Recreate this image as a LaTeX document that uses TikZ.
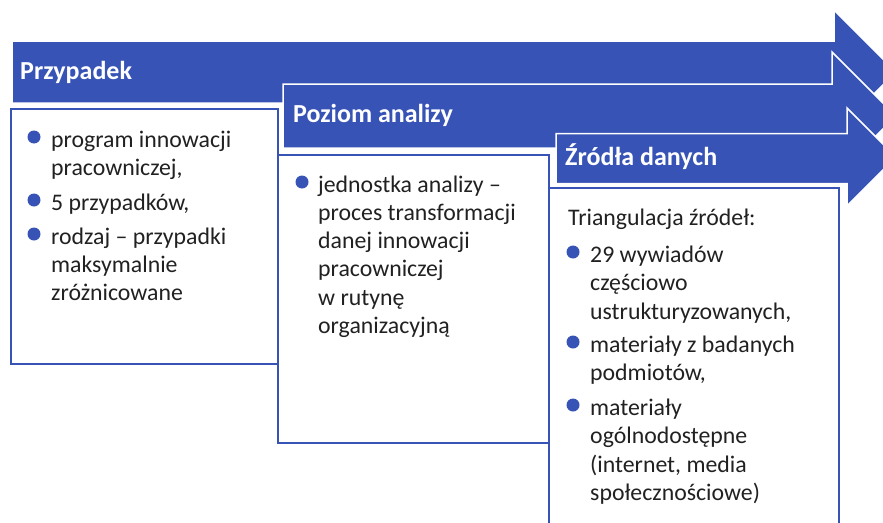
\documentclass[tikz,border=0pt]{standalone}
\usepackage{fontspec}
\setmainfont{Carlito}
\definecolor{flow}{RGB}{54,83,181}
\definecolor{ink}{RGB}{33,33,33}
\newcommand{\bodyfont}{\fontsize{23.8}{28}\selectfont}
\newcommand{\headfont}{\fontsize{26}{30}\selectfont\bfseries}
\tikzset{
  banner/.style={fill=flow, draw=white, line width=1.5pt, line join=miter},
  panel/.style={fill=white, draw=flow, line width=2.5pt},
  headtxt/.style={anchor=base west, inner sep=0pt, font=\headfont, text=white},
  ln/.style={anchor=base west, inner sep=0pt, font=\bodyfont, text=ink},
  dot/.style={circle, fill=flow, inner sep=0pt, outer sep=0pt, minimum size=13pt}
}
\begin{document}
\begin{tikzpicture}[x=1pt,y=-1pt]
\clip (0,0) rectangle (883,522);
\fill[white] (0,0) rectangle (883,522);

% first stage
\draw[banner] (12,41) -- (834,41) -- (834,10) -- (896,72) -- (834,134) -- (834,103) -- (12,103) -- cycle;
\draw[panel] (11,109) rectangle (278,364);
\node[headtxt] (h1) at (20,79) {Przypadek};
\node[dot] (b1a) at (34,137) {};
\node[ln] (t1a) at (51,147) {program innowacji};
\node[ln] (t1b) at (51,175) {pracowniczej,};
\node[dot] (b1b) at (34,200) {};
\node[ln] (t1c) at (51,210) {5 przypadków,};
\node[dot] (b1c) at (34,234) {};
\node[ln] (t1d) at (51,244) {rodzaj – przypadki};
\node[ln] (t1e) at (51,272) {maksymalnie};
\node[ln] (t1f) at (51,300) {zróżnicowane};

% second stage
\draw[banner] (283,84) -- (832,84) -- (832,52) -- (896,116) -- (832,180) -- (832,148) -- (283,148) -- cycle;
\draw[panel] (278,155) rectangle (549,443);
\node[headtxt] (h2) at (293,122.5) {Poziom analizy};
\node[dot] (b2a) at (302,182) {};
\node[ln] (t2a) at (318,192) {jednostka analizy –};
\node[ln] (t2b) at (318,220.3) {proces transformacji};
\node[ln] (t2c) at (318,248.6) {danej innowacji};
\node[ln] (t2d) at (318,276.9) {pracowniczej};
\node[ln] (t2e) at (318,305.2) {w rutynę};
\node[ln] (t2f) at (318,333.5) {organizacyjną};

% third stage
\draw[banner] (556,133.5) -- (847,133.5) -- (847,108) -- (896,157) -- (847,206) -- (847,183.5) -- (556,183.5) -- cycle;
\draw[panel] (549,188) rectangle (839,545);
\node[headtxt] (h3) at (565,165) {Źródła danych};
\node[ln] (t3) at (568,225) {Triangulacja źródeł:};
\node[dot] (b3a) at (573,252) {};
\node[ln] (t3a) at (590,262) {29 wywiadów};
\node[ln] (t3b) at (590,290.5) {częściowo};
\node[ln] (t3c) at (590,319) {ustrukturyzowanych,};
\node[dot] (b3b) at (573,342) {};
\node[ln] (t3d) at (590,352) {materiały z badanych};
\node[ln] (t3e) at (590,380.5) {podmiotów,};
\node[dot] (b3c) at (573,405) {};
\node[ln] (t3f) at (590,415) {materiały};
\node[ln] (t3g) at (590,443.5) {ogólnodostępne};
\node[ln] (t3h) at (590,472) {(internet, media};
\node[ln] (t3i) at (590,500.5) {społecznościowe)};
\end{tikzpicture}
\end{document}
